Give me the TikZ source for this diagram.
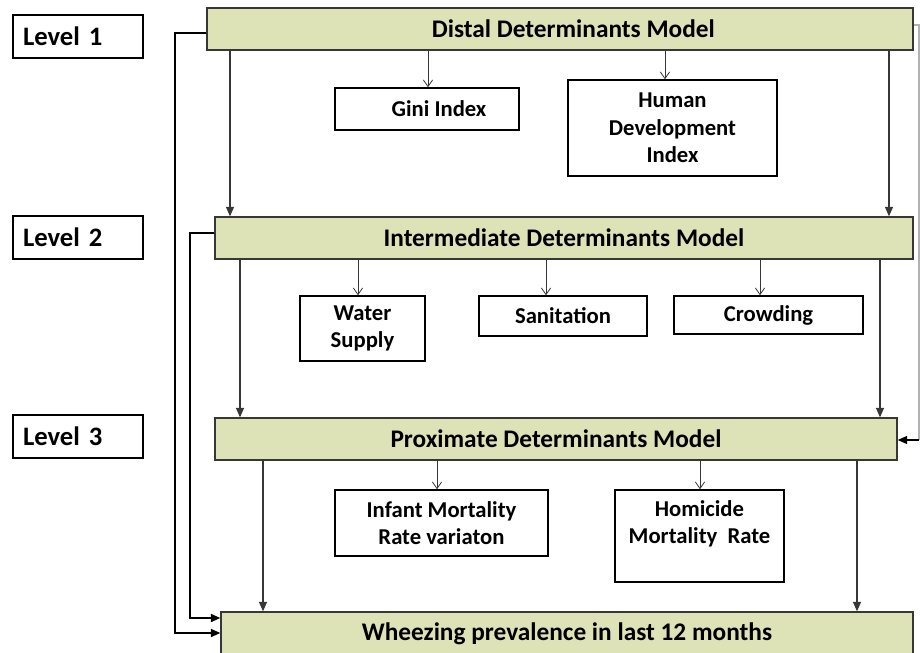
\documentclass[tikz,border=0pt]{standalone}
\usepackage{fontspec}
\setmainfont{Carlito}
\usetikzlibrary{arrows.meta}
\definecolor{modelfill}{RGB}{222,226,183}
\definecolor{edgegray}{RGB}{55,55,55}
\begin{document}
\begin{tikzpicture}[x=0.75pt,y=-0.75pt,
  model/.style={draw=edgegray, line width=1.1pt, fill=modelfill, inner sep=0pt,
    font=\fontsize{19}{22}\selectfont\bfseries},
  subbox/.style={draw=black, line width=1.1pt, fill=white, inner sep=0pt, align=center,
    font=\fontsize{17}{20.5}\selectfont\bfseries},
  subtext/.style={inner sep=0pt, align=center, font=\fontsize{17}{20.5}\selectfont\bfseries},
  levelbox/.style={draw=black, line width=1.3pt, inner xsep=7.5pt, inner ysep=0pt,
    text width=82.5pt, minimum height=32.25pt, align=left,
    font=\fontsize{20}{23}\selectfont\bfseries},
  thinarrow/.style={draw=edgegray, line width=0.6pt, -{Straight Barb[length=5pt,width=7pt]}},
  longarrow/.style={draw=edgegray, line width=0.8pt, -{Triangle[length=7pt,width=6pt]}},
  feedarrow/.style={draw=black, line width=1.2pt, -{Triangle[length=7pt,width=6pt]}},
  graylink/.style={draw=black!30, line width=0.8pt},
]
\useasboundingbox (0,0) rectangle (922,653);

% level labels
\node[levelbox] (lv1) at (78,36.5) {Level~1};
\node[levelbox] (lv2) at (78,237.5) {Level~2};
\node[levelbox] (lv3) at (78,436.5) {Level~3};

% model boxes
\node[model, minimum width=529.5pt, minimum height=31.5pt] (dist) at (560,29) {\hspace*{20pt}Distal Determinants Model};
\node[model, minimum width=523.5pt, minimum height=31.5pt] (inter) at (564,238) {Intermediate Determinants Model};
\node[model, minimum width=511.5pt, minimum height=31.5pt] (prox) at (556,439) {Proximate Determinants Model};
\node[model, minimum width=519pt, minimum height=32.25pt] (wheeze) at (567,633.5) {Wheezing prevalence in last 12 months};

% sub boxes
\node[subbox, minimum width=138pt, minimum height=31.5pt] (gini) at (427,109) {\hspace*{18pt}Gini Index};
\node[subbox, minimum width=156.75pt, minimum height=72pt] (hdi) at (672.5,128) {Human\\Development\\Index};
\node[subbox, minimum width=93.75pt, minimum height=48.75pt] (water) at (362.5,328.5) {Water\\Supply};
\node[subbox, minimum width=126pt, minimum height=30pt] (sanit) at (563,316) {Sanitation};
\node[subbox, minimum width=141.75pt, minimum height=28.5pt] (crowd) at (768.5,315) {\raisebox{-2pt}{Crowding}};
\node[subbox, minimum width=159.75pt, minimum height=49.5pt] (infant) at (441.5,523) {Infant\ Mortality\\Rate variaton};
\node[subbox, minimum width=126.75pt, minimum height=69pt] (hom) at (699.5,536) {};
\node[subtext] (homt) at (699.5,523.5) {Homicide\\Mortality\ \ Rate};

% x positions of connectors
\coordinate (a1) at (230,0);
\coordinate (a2) at (428,0);
\coordinate (a3) at (665,0);
\coordinate (a4) at (889,0);
\coordinate (b1) at (240,0);
\coordinate (b2) at (358,0);
\coordinate (b3) at (546,0);
\coordinate (b4) at (760,0);
\coordinate (b5) at (880,0);
\coordinate (c1) at (263,0);
\coordinate (c2) at (437,0);
\coordinate (c3) at (700,0);
\coordinate (c4) at (857,0);

% level 1 -> level 2
\draw[longarrow] (dist.south -| a1) -- (inter.north -| a1);
\draw[thinarrow] (dist.south -| a2) -- (gini.north -| a2);
\draw[thinarrow] (dist.south -| a3) -- (hdi.north -| a3);
\draw[longarrow] (dist.south -| a4) -- (inter.north -| a4);

% level 2 -> level 3
\draw[longarrow] (inter.south -| b1) -- (prox.north -| b1);
\draw[thinarrow] (inter.south -| b2) -- (water.north -| b2);
\draw[thinarrow] (inter.south -| b3) -- (sanit.north -| b3);
\draw[thinarrow] (inter.south -| b4) -- (crowd.north -| b4);
\draw[longarrow] (inter.south -| b5) -- (prox.north -| b5);

% level 3 -> outcome
\draw[longarrow] (prox.south -| c1) -- (wheeze.north -| c1);
\draw[thinarrow] (prox.south -| c2) -- (infant.north -| c2);
\draw[thinarrow] (prox.south -| c3) -- (hom.north -| c3);
\draw[longarrow] (prox.south -| c4) -- (wheeze.north -| c4);

% left feedback lines
\coordinate (l1) at (175,33);
\coordinate (l1b) at (175,633);
\coordinate (l2) at (190,233);
\coordinate (l2b) at (190,618);
\draw[feedarrow] (dist.west |- l1) -- (l1) -- (l1b) -- (wheeze.west |- l1b);
\draw[feedarrow] (inter.west |- l2) -- (l2) -- (l2b) -- (wheeze.west |- l2b);

% right link distal -> proximate
\coordinate (r1) at (919,25);
\coordinate (r1b) at (919,440);
\draw[graylink] (dist.east |- r1) -- (r1) -- (r1b);
\draw[feedarrow, line width=1pt] (r1b) -- (prox.east |- r1b);
\end{tikzpicture}
\end{document}
